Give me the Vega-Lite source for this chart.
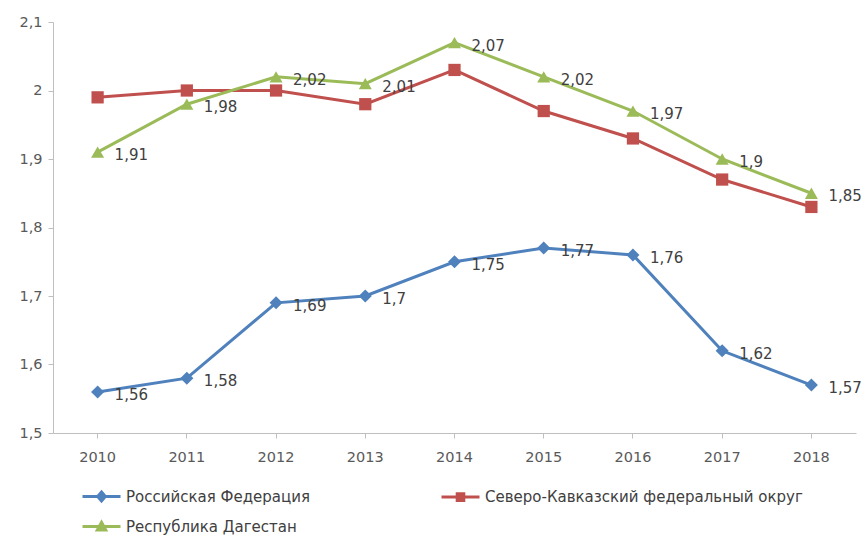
{
  "$schema": "https://vega.github.io/schema/vega-lite/v6.json",
  "autosize": {"type": "none"},
  "padding": {"left": 53, "top": 22, "right": 8, "bottom": 104},
  "width": 803,
  "height": 411,
  "background": "white",
  "config": {
    "locale": {"number": {"decimal": ",", "thousands": " ", "grouping": [3], "currency": ["", ""]}},
    "view": {"stroke": null},
    "font": "DejaVu Sans"
  },
  "data": {
    "values": [
      {"year": "2010", "series": "Российская Федерация", "value": 1.56},
      {"year": "2011", "series": "Российская Федерация", "value": 1.58},
      {"year": "2012", "series": "Российская Федерация", "value": 1.69},
      {"year": "2013", "series": "Российская Федерация", "value": 1.70},
      {"year": "2014", "series": "Российская Федерация", "value": 1.75},
      {"year": "2015", "series": "Российская Федерация", "value": 1.77},
      {"year": "2016", "series": "Российская Федерация", "value": 1.76},
      {"year": "2017", "series": "Российская Федерация", "value": 1.62},
      {"year": "2018", "series": "Российская Федерация", "value": 1.57},
      {"year": "2010", "series": "Северо-Кавказский федеральный округ", "value": 1.99},
      {"year": "2011", "series": "Северо-Кавказский федеральный округ", "value": 2.00},
      {"year": "2012", "series": "Северо-Кавказский федеральный округ", "value": 2.00},
      {"year": "2013", "series": "Северо-Кавказский федеральный округ", "value": 1.98},
      {"year": "2014", "series": "Северо-Кавказский федеральный округ", "value": 2.03},
      {"year": "2015", "series": "Северо-Кавказский федеральный округ", "value": 1.97},
      {"year": "2016", "series": "Северо-Кавказский федеральный округ", "value": 1.93},
      {"year": "2017", "series": "Северо-Кавказский федеральный округ", "value": 1.87},
      {"year": "2018", "series": "Северо-Кавказский федеральный округ", "value": 1.83},
      {"year": "2010", "series": "Республика Дагестан", "value": 1.91},
      {"year": "2011", "series": "Республика Дагестан", "value": 1.98},
      {"year": "2012", "series": "Республика Дагестан", "value": 2.02},
      {"year": "2013", "series": "Республика Дагестан", "value": 2.01},
      {"year": "2014", "series": "Республика Дагестан", "value": 2.07},
      {"year": "2015", "series": "Республика Дагестан", "value": 2.02},
      {"year": "2016", "series": "Республика Дагестан", "value": 1.97},
      {"year": "2017", "series": "Республика Дагестан", "value": 1.90},
      {"year": "2018", "series": "Республика Дагестан", "value": 1.85}
    ]
  },
  "encoding": {
    "x": {
      "field": "year", "type": "ordinal",
      "scale": {"type": "band", "paddingInner": 0, "paddingOuter": 0},
      "axis": {
        "title": null, "labelAngle": 0,
        "grid": false, "domainColor": "#BFBFBF", "tickColor": "#BFBFBF", "tickSize": 5,
        "labelFont": "DejaVu Sans", "labelFontSize": 14.5, "labelColor": "#595959", "labelPadding": 12
      }
    },
    "y": {
      "field": "value", "type": "quantitative",
      "scale": {"domain": [1.5, 2.1], "nice": false, "zero": false},
      "axis": {
        "title": null, "values": [1.5, 1.6, 1.7, 1.8, 1.9, 2.0, 2.1], "format": ".1~f",
        "grid": false, "domainColor": "#BFBFBF", "tickColor": "#BFBFBF", "tickSize": 5,
        "labelFont": "DejaVu Sans", "labelFontSize": 14.5, "labelColor": "#595959", "labelPadding": 6
      }
    },
    "color": {
      "field": "series", "type": "nominal",
      "scale": {
        "domain": ["Российская Федерация", "Северо-Кавказский федеральный округ", "Республика Дагестан"],
        "range": ["#4F81BD", "#C0504D", "#9BBB59"]
      },
      "legend": {
        "title": null, "orient": "none", "legendX": 37, "legendY": 463, "direction": "horizontal",
        "columns": 2, "columnPadding": 125, "rowPadding": 8, "padding": 0,
        "symbolSize": 400, "symbolStrokeWidth": 3, "labelOffset": 13, "labelLimit": 500,
        "labelFont": "DejaVu Sans", "labelFontSize": 15, "labelColor": "#404040",
        "encode": {
          "symbols": {
            "update": {
              "shape": {"signal": "datum.value === 'Российская Федерация' ? 'M-1.9,0H1.9M0,-0.45L0.38,0L0,0.45L-0.38,0Z' : datum.value === 'Республика Дагестан' ? 'M-1.9,0H1.9M0,-0.42L0.42,0.35H-0.42Z' : 'M-1.9,0H1.9M-0.33,-0.33H0.33V0.33H-0.33Z'"},
              "fill": {"scale": "color", "field": "value"},
              "stroke": {"scale": "color", "field": "value"},
              "opacity": {"value": 1}
            }
          }
        }
      }
    }
  },
  "layer": [
    {"mark": {"type": "line", "strokeWidth": 3}},
    {
      "transform": [{"filter": "datum.series === 'Российская Федерация'"}],
      "mark": {"type": "point", "filled": true, "opacity": 1, "shape": "diamond", "size": 170}
    },
    {
      "transform": [{"filter": "datum.series === 'Северо-Кавказский федеральный округ'"}],
      "mark": {"type": "point", "filled": true, "opacity": 1, "shape": "square", "size": 150}
    },
    {
      "transform": [{"filter": "datum.series === 'Республика Дагестан'"}],
      "mark": {"type": "point", "filled": true, "opacity": 1, "shape": "triangle-up", "size": 170}
    },
    {
      "transform": [{"filter": "datum.series !== 'Северо-Кавказский федеральный округ'"}],
      "mark": {"type": "text", "align": "left", "baseline": "middle", "dx": 17, "dy": 3, "font": "DejaVu Sans", "fontSize": 15},
      "encoding": {
        "text": {"field": "value", "type": "quantitative", "format": ".2~f"},
        "color": {"value": "#404040"}
      }
    }
  ]
}
